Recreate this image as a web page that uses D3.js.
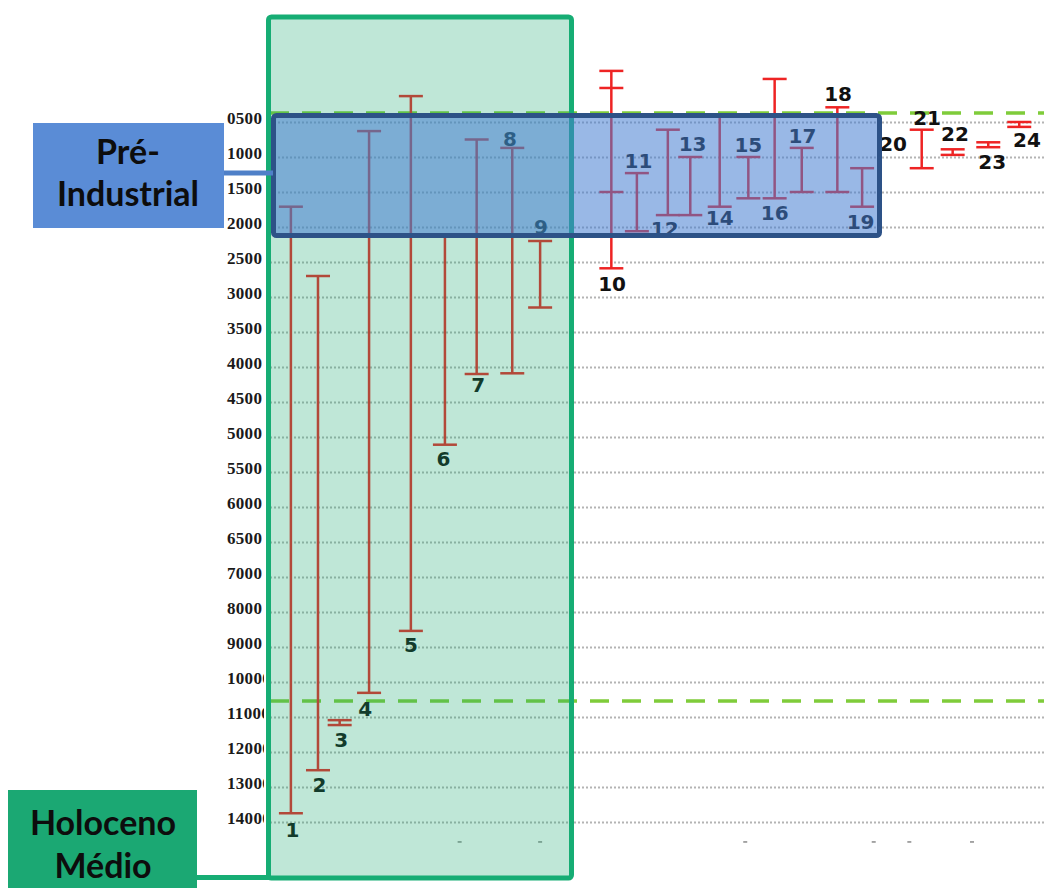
<!DOCTYPE html>
<html>
<head>
<meta charset="utf-8">
<script src="https://cdn.jsdelivr.net/npm/d3@7"></script>
<style>
  body { margin: 0; background: #fff; }
  svg { display: block; }
</style>
</head>
<body>
<div id="chart"></div>
<script>
// ages (years BP), y axis is broken at 7000
const yTicks = [500, 1000, 1500, 2000, 2500, 3000, 3500, 4000, 4500, 5000, 5500, 6000, 6500, 7000,
                8000, 9000, 10000, 11000, 12000, 13000, 14000];

// records 1..24 : horizontal position (0-100 units), younger / older limit
const records = ['1','2','3','4','5','6','7','8','9','10','11','12','13','14','15','16','17','18','19','20','21','22','23','24'];
const recX    = [2.7, 6.2, 9.0, 12.8, 18.2, 22.6, 26.7, 31.3, 34.9, 44.1, 47.4, 51.4, 54.3, 58.1, 61.8, 65.2, 68.7, 73.3, 76.5, 84.2, 85.0, 88.2, 92.8, 96.8];
const recTop  = [1710, 2700, 11090, 630, 130, 2130, 750, 870, 2200, -230, 1230, 610, 1000, 420, 1000, -115, 870, 290, 1160, 610, null, 890, 790, 500];
const recBot  = [13750, 12520, 11230, 10310, 8540, 5110, 4100, 4090, 3150, 2590, 2060, 1830, 1830, 1710, 1590, 1590, 1500, 1500, 1710, 1160, null, 970, 860, 570];

// where each number sits (x units, age)
const labelX  = [2.9, 6.4, 9.2, 12.3, 18.2, 22.4, 26.9, 31.0, 35.0, 44.2, 47.6, 51.0, 54.6, 58.1, 61.8, 65.2, 68.8, 73.4, 76.3, 80.5, 84.9, 88.5, 93.3, 97.8];
const labelY  = [14230, 12940, 11660, 10770, 8940, 5310, 4260, 740, 1990, 2810, 1060, 2030, 810, 1870, 830, 1800, 690, 100, 1930, 810, 440, 670, 1070, 760];

// extra tick marks on record 10
const extraTicks = [{rec: '10', ages: [14, 1500]}];

// green dashed reference ages
const refAges = [370, 10545];

// small dashes under the plot
const bottomMarks = [24.5, 34.9, 61.4, 78.0, 82.6, 90.7];
const bottomAge = 14570;

const W = 1044, H = 888;
const plotLeft = 270, plotRight = 1044;

const svg = d3.select('#chart').append('svg')
  .attr('width', W)
  .attr('height', H);

const x = d3.scaleLinear().domain([0, 100]).range([plotLeft, plotLeft + 774]);
const y = d3.scaleLinear().domain([500, 7000, 14000]).range([122, 577, 822]);

const red = '#ee2424';

// grid + labels through one axis
const axis = svg.append('g')
  .attr('transform', 'translate(' + plotLeft + ',0)')
  .call(d3.axisLeft(y).tickValues(yTicks).tickSize(-(plotRight - plotLeft)).tickFormat(d3.format('04d')));
axis.select('.domain').remove();
axis.selectAll('.tick line')
  .attr('stroke', '#b4b4b4')
  .attr('stroke-width', 2)
  .attr('stroke-dasharray', '2,2');
axis.selectAll('.tick text')
  .attr('x', -43)
  .attr('dy', '0.1em')
  .attr('text-anchor', 'start')
  .attr('fill', '#1a1a1a')
  .style('font-family', '"Liberation Serif", "DejaVu Serif", serif')
  .style('font-weight', 'bold')
  .style('font-size', '17px')
  .style('letter-spacing', '0.3px');
// the green panel cuts the 5 digit labels
axis.selectAll('.tick').each(function(d){
  const id = 'clip' + d;
  const t = d3.select(this);
  t.append('clipPath').attr('id', id)
    .append('rect')
    .attr('x', -60).attr('y', -15).attr('width', 264 - plotLeft + 60).attr('height', 30);
  t.select('text').attr('clip-path', 'url(#' + id + ')');
});

// green dashed reference lines
svg.selectAll('.ref')
  .data(refAges)
  .enter().append('line')
  .attr('class', 'ref')
  .attr('x1', plotLeft).attr('x2', plotRight)
  .attr('y1', d => y(d)).attr('y2', d => y(d))
  .attr('stroke', '#7fcc3a')
  .attr('stroke-width', 3.5)
  .attr('stroke-dasharray', '19,13');

// error bars
const recData = records.map((r, i) => ({
  key: r, x: recX[i], top: recTop[i], bot: recBot[i], lx: labelX[i], ly: labelY[i]
}));
const capW = 24;

const bars = svg.selectAll('.rec')
  .data(recData.filter(d => d.top != null))
  .enter().append('g')
  .attr('class', 'rec')
  .attr('stroke', red)
  .attr('stroke-width', 2.5);
bars.append('line')
  .attr('x1', d => x(d.x)).attr('x2', d => x(d.x))
  .attr('y1', d => y(d.top)).attr('y2', d => y(d.bot));
bars.append('line')
  .attr('x1', d => x(d.x) - capW / 2).attr('x2', d => x(d.x) + capW / 2)
  .attr('y1', d => y(d.top)).attr('y2', d => y(d.top));
bars.append('line')
  .attr('x1', d => x(d.x) - capW / 2).attr('x2', d => x(d.x) + capW / 2)
  .attr('y1', d => y(d.bot)).attr('y2', d => y(d.bot));

extraTicks.forEach(function(e){
  const rec = recData.find(d => d.key === e.rec);
  svg.selectAll(null)
    .data(e.ages)
    .enter().append('line')
    .attr('x1', x(rec.x) - capW / 2).attr('x2', x(rec.x) + capW / 2)
    .attr('y1', d => y(d)).attr('y2', d => y(d))
    .attr('stroke', red)
    .attr('stroke-width', 2.5);
});

// record numbers
svg.selectAll('.num')
  .data(recData)
  .enter().append('text')
  .attr('class', 'num')
  .attr('x', d => x(d.lx))
  .attr('y', d => y(d.ly))
  .attr('dy', '0.36em')
  .attr('text-anchor', 'middle')
  .attr('fill', '#111')
  .style('font-family', '"DejaVu Sans", Verdana, sans-serif')
  .style('font-weight', 'bold')
  .style('font-size', '20px')
  .text(d => d.key);

// little dashes under the grid
svg.selectAll('.bm')
  .data(bottomMarks)
  .enter().append('line')
  .attr('class', 'bm')
  .attr('x1', d => x(d) - 2).attr('x2', d => x(d) + 2)
  .attr('y1', y(bottomAge)).attr('y2', y(bottomAge))
  .attr('stroke', '#8a8a8a')
  .attr('stroke-width', 1.5);

// Holoceno Medio panel (translucent green over the plot)
svg.append('rect')
  .attr('x', 268.5).attr('y', 17).attr('width', 303).attr('height', 861)
  .attr('rx', 3)
  .attr('fill', 'rgba(26,170,110,0.28)')
  .attr('stroke', '#16ad74')
  .attr('stroke-width', 5);

// Pre-Industrial panel (translucent blue)
svg.append('rect')
  .attr('x', 273.5).attr('y', 115.5).attr('width', 606).attr('height', 120)
  .attr('rx', 3)
  .attr('fill', 'rgba(70,125,210,0.55)')
  .attr('stroke', '#2d5287')
  .attr('stroke-width', 5);

// callout boxes
svg.append('line')
  .attr('x1', 222).attr('x2', 273)
  .attr('y1', 173).attr('y2', 173)
  .attr('stroke', '#4f80c8').attr('stroke-width', 5);
svg.append('rect')
  .attr('x', 33).attr('y', 123).attr('width', 191).attr('height', 105)
  .attr('fill', '#5a8cd6');

svg.append('line')
  .attr('x1', 195).attr('x2', 270)
  .attr('y1', 877.5).attr('y2', 877.5)
  .attr('stroke', '#16ad74').attr('stroke-width', 5);
svg.append('rect')
  .attr('x', 8).attr('y', 790).attr('width', 189).attr('height', 100)
  .attr('fill', '#1ba873');

const callouts = [
  {cx: 128, lines: ['Pré-', 'Industrial'], ys: [152, 194]},
  {cx: 103, lines: ['Holoceno', 'Médio'], ys: [823, 866]}
];
callouts.forEach(function(c){
  svg.selectAll(null)
    .data(c.lines)
    .enter().append('text')
    .attr('x', c.cx)
    .attr('y', (d, i) => c.ys[i])
    .attr('dy', '0.35em')
    .attr('text-anchor', 'middle')
    .attr('fill', '#0d0d0d')
    .style('font-family', 'Lato, "Open Sans", sans-serif')
    .style('font-weight', 'bold')
    .style('font-size', '34px')
    .text(d => d);
});
</script>
</body>
</html>
